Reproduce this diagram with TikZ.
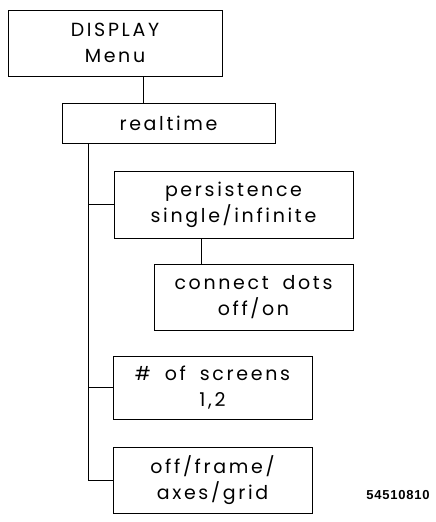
\documentclass[tikz,border=0pt]{standalone}
\usepackage{fontspec}
\setmainfont{Poppins}[LetterSpace=14, WordSpace=1.8]
\newfontfamily\labelfont{Liberation Sans}[LetterSpace=6]
\begin{document}
\begin{tikzpicture}[x=1pt,y=-1pt,
  line width=1pt,
  menubox/.style={draw, rectangle, inner sep=0pt, align=center,
    font=\fontsize{19}{26}\selectfont}]
\useasboundingbox (0,0) rectangle (436,522);
\node[menubox, minimum width=214pt, minimum height=66pt] (disp) at (115,43) {DISPLAY\\Menu};
\node[menubox, minimum width=213pt, minimum height=40pt] (rt) at (168.5,123) {realtime};
\node[menubox, minimum width=239pt, minimum height=67pt] (pers) at (233.5,204.5) {persistence\\single/infinite};
\node[menubox, minimum width=199pt, minimum height=66pt] (dots) at (253.5,297) {connect dots\\off/on};
\node[menubox, minimum width=199pt, minimum height=63pt] (scr) at (212.5,387.5) {\# of screens\\1,2};
\node[menubox, minimum width=199pt, minimum height=66pt] (grid) at (212.5,480) {off/frame/\\axes/grid};
\node[font=\labelfont\bfseries\fontsize{13}{15}\selectfont, anchor=center] (code) at (398,495) {54510810};
\coordinate (a) at ([xshift=28pt]disp.south);
\draw (a) -- (a |- rt.north);
\coordinate (tr) at ([xshift=-80.5pt]rt.south);
\draw (tr) |- (grid.west);
\draw (tr |- pers.west) -- (pers.west);
\draw (tr |- scr.west) -- (scr.west);
\coordinate (b) at ([xshift=-32.5pt]pers.south);
\draw (b) -- (b |- dots.north);
\end{tikzpicture}
\end{document}
